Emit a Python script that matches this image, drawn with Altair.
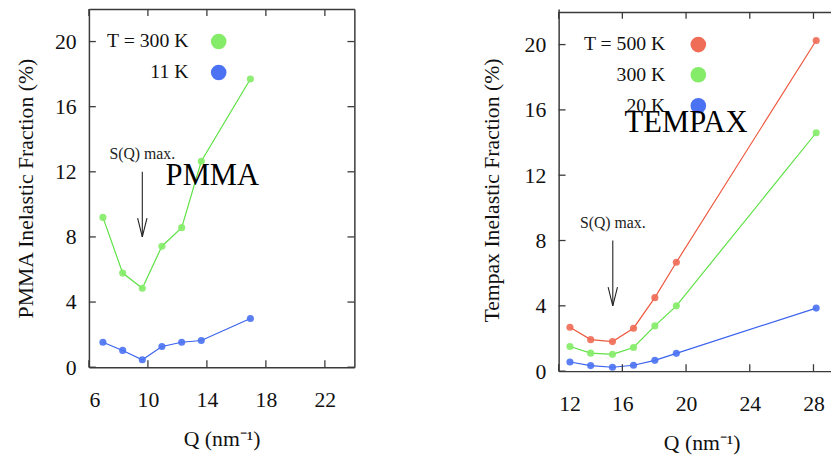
import altair as alt
import pandas as pd

# ---------------- data ----------------
pmma_q = [6.95, 8.29, 9.62, 10.95, 12.29, 13.62, 16.95]
pmma_300K = [9.2, 5.78, 4.85, 7.43, 8.57, 12.65, 17.7]
pmma_11K = [1.53, 1.03, 0.46, 1.27, 1.53, 1.64, 2.99]

tempax_q = [12.71, 14.01, 15.38, 16.70, 18.04, 19.39, 28.17]
tempax_500K = [2.69, 1.93, 1.81, 2.63, 4.50, 6.67, 20.25]
tempax_300K = [1.51, 1.10, 1.03, 1.45, 2.77, 4.00, 14.60]
tempax_20K = [0.56, 0.34, 0.24, 0.36, 0.66, 1.09, 3.86]

pmma_series = ["300 K", "11 K"]
pmma_colors = ["#5ee245", "#3a62ee"]
pmma_point_colors = ["#84ec68", "#4a72f2"]
tempax_series = ["500 K", "300 K", "20 K"]
tempax_colors = ["#ee583e", "#5ee245", "#3a62ee"]
tempax_point_colors = ["#ef6c56", "#84ec68", "#4a72f2"]

pmma_x_domain = [6, 24]
tempax_x_domain = [12, 29.1]
pmma_y_domain = [0, 22]
tempax_y_domain = [0, 22.18]
pmma_x_ticks = [6, 10, 14, 18, 22]
tempax_x_ticks = [12, 16, 20, 24, 28]
y_ticks = [0, 4, 8, 12, 16, 20]

# legend (label text, label position, symbol position, in data units)
pmma_legend_labels = ["T = 300 K", "11 K"]
pmma_legend_label_q = [12.75, 12.75]
pmma_legend_symbol_q = [14.8, 14.8]
pmma_legend_y = [20.0, 18.1]
tempax_legend_labels = ["T = 500 K", "300 K", "20 K"]
tempax_legend_label_q = [18.7, 18.7, 18.7]
tempax_legend_symbol_q = [20.77, 20.77, 20.77]
tempax_legend_y = [20.0, 18.15, 16.25]

# annotations
pmma_name, pmma_name_q, pmma_name_y = "PMMA", 14.37, 11.76
tempax_name, tempax_name_q, tempax_name_y = "TEMPAX", 20.0, 15.2
sq_label = "S(Q) max."
pmma_sq_q, pmma_sq_label_y, pmma_arrow_from, pmma_arrow_to = 9.62, 13.1, 12.0, 8.0
tempax_sq_q, tempax_sq_label_y, tempax_arrow_from, tempax_arrow_to = 15.4, 9.05, 8.0, 4.0

SERIF = "Liberation Serif"
FRAME = "#3a3a3a"
TICK_LEN = 7


def long_df(q, names, values):
    rows = []
    for name, vals in zip(names, values):
        for qq, v in zip(q, vals):
            rows.append({"Q": qq, "val": v, "series": name})
    return pd.DataFrame(rows)


def panel(q, names, values, line_colors, point_colors, x_domain, y_domain, x_ticks,
          ytitle, W, H, leg_labels, leg_lq, leg_sq, leg_y,
          name, name_q, name_y, sq_q, sq_y, ar_from, ar_to, right_frame, xtitle_x,
          ytitle_pad, top_inset):
    xs = alt.Scale(domain=x_domain, nice=False, zero=False)
    ys = alt.Scale(domain=y_domain, nice=False, zero=False)
    df = long_df(q, names, values)

    xaxis = alt.Axis(orient="bottom", values=x_ticks, ticks=False, grid=False,
                     labelPadding=23, titlePadding=18, title="Q (nm⁻¹)",
                     titleX=xtitle_x, titleAlign="center")
    yaxis = alt.Axis(orient="left", values=y_ticks, ticks=False, grid=False,
                     labelPadding=13, titlePadding=ytitle_pad, title=ytitle)

    lines = alt.Chart(df).mark_line(strokeWidth=1.2).encode(
        x=alt.X("Q:Q", scale=xs, axis=xaxis),
        y=alt.Y("val:Q", scale=ys, axis=yaxis),
        color=alt.Color("series:N", scale=alt.Scale(domain=names, range=line_colors), legend=None),
    )
    pts = alt.Chart(df).mark_circle(size=52, opacity=0.9).encode(
        x=alt.X("Q:Q", scale=xs, axis=None),
        y=alt.Y("val:Q", scale=ys, axis=None),
        color=alt.Color("series:N", scale=alt.Scale(domain=names, range=point_colors), legend=None),
    )

    # frame (top / right) + inward ticks
    xt = pd.DataFrame({"v": x_ticks})
    yt = pd.DataFrame({"v": y_ticks})
    top_axis = alt.Axis(orient="top", labels=False, ticks=False, grid=False, title=None,
                        offset=-top_inset)
    tick_top = alt.Chart(xt).mark_rule(color=FRAME, strokeWidth=1.3).encode(
        x=alt.X("v:Q", scale=xs, axis=top_axis), y=alt.value(top_inset),
        y2=alt.value(top_inset + TICK_LEN))
    tick_bottom = alt.Chart(xt).mark_rule(color=FRAME, strokeWidth=1.3).encode(
        x=alt.X("v:Q", scale=xs, axis=None), y=alt.value(H - TICK_LEN), y2=alt.value(H))
    layers = [lines, pts, tick_top, tick_bottom]
    if right_frame:
        right_axis = alt.Axis(orient="right", labels=False, ticks=False, grid=False, title=None)
        tick_left = alt.Chart(yt).mark_rule(color=FRAME, strokeWidth=1.3).encode(
            y=alt.Y("v:Q", scale=ys, axis=right_axis), x=alt.value(0), x2=alt.value(TICK_LEN))
        tick_right = alt.Chart(yt).mark_rule(color=FRAME, strokeWidth=1.3).encode(
            y=alt.Y("v:Q", scale=ys, axis=None), x=alt.value(W - TICK_LEN), x2=alt.value(W))
        layers += [tick_left, tick_right]
    else:
        tick_left = alt.Chart(yt).mark_rule(color=FRAME, strokeWidth=1.3).encode(
            y=alt.Y("v:Q", scale=ys, axis=None), x=alt.value(0), x2=alt.value(TICK_LEN))
        layers += [tick_left]

    # legend
    leg = pd.DataFrame({"label": leg_labels, "lq": leg_lq, "sq": leg_sq, "y": leg_y, "series": names})
    leg_text = alt.Chart(leg).mark_text(font=SERIF, fontSize=20, align="right", baseline="middle",
                                        color="#111").encode(
        x=alt.X("lq:Q", scale=xs, axis=None), y=alt.Y("y:Q", scale=ys, axis=None), text="label:N")
    leg_sym = alt.Chart(leg).mark_circle(size=250, opacity=1).encode(
        x=alt.X("sq:Q", scale=xs, axis=None), y=alt.Y("y:Q", scale=ys, axis=None),
        color=alt.Color("series:N", scale=alt.Scale(domain=names, range=point_colors), legend=None))

    # annotations
    ann = pd.DataFrame({"q": [name_q], "y": [name_y], "t": [name]})
    name_txt = alt.Chart(ann).mark_text(font=SERIF, fontSize=31, align="center", baseline="middle",
                                        color="#000").encode(
        x=alt.X("q:Q", scale=xs, axis=None), y=alt.Y("y:Q", scale=ys, axis=None), text="t:N")
    sq = pd.DataFrame({"q": [sq_q], "ylab": [sq_y], "y1": [ar_from], "y2": [ar_to], "t": [sq_label]})
    sq_txt = alt.Chart(sq).mark_text(font=SERIF, fontSize=16, align="center", baseline="middle",
                                     color="#222").encode(
        x=alt.X("q:Q", scale=xs, axis=None), y=alt.Y("ylab:Q", scale=ys, axis=None), text="t:N")
    arrow = alt.Chart(sq).mark_rule(color="#222", strokeWidth=1.1).encode(
        x=alt.X("q:Q", scale=xs, axis=None), y=alt.Y("y1:Q", scale=ys, axis=None), y2="y2:Q")
    head = alt.Chart(sq).mark_point(shape="M-0.25,-1L0,0L0.25,-1", size=1444, filled=False,
                                    color="#222", strokeWidth=1.1, opacity=1).encode(
        x=alt.X("q:Q", scale=xs, axis=None), y=alt.Y("y2:Q", scale=ys, axis=None))

    layers += [leg_text, leg_sym, name_txt, sq_txt, arrow, head]
    return alt.layer(*layers).resolve_axis(x="independent", y="independent").resolve_scale(
        color="independent").properties(width=W, height=H)


left = panel(pmma_q, pmma_series, [pmma_300K, pmma_11K], pmma_colors, pmma_point_colors,
             pmma_x_domain, pmma_y_domain, pmma_x_ticks, "PMMA Inelastic Fraction (%)", 269, 363,
             pmma_legend_labels, pmma_legend_label_q, pmma_legend_symbol_q, pmma_legend_y,
             pmma_name, pmma_name_q, pmma_name_y, pmma_sq_q, pmma_sq_label_y,
             pmma_arrow_from, pmma_arrow_to, True, 134.5, 17, 0)
right = panel(tempax_q, tempax_series, [tempax_500K, tempax_300K, tempax_20K], tempax_colors,
              tempax_point_colors, tempax_x_domain, tempax_y_domain, tempax_x_ticks,
              "Tempax Inelastic Fraction (%)", 276, 367, tempax_legend_labels,
              tempax_legend_label_q, tempax_legend_symbol_q, tempax_legend_y, tempax_name,
              tempax_name_q, tempax_name_y, tempax_sq_q, tempax_sq_label_y, tempax_arrow_from,
              tempax_arrow_to, False, 145, 21, 3)

chart = alt.hconcat(left, right, spacing=127).properties(
    padding={"left": 7, "top": -3, "right": 0, "bottom": 0},
    background="white",
).configure_view(strokeWidth=0).configure_axis(
    labelFont=SERIF, labelFontSize=22, labelColor="#111",
    titleFont=SERIF, titleFontSize=22, titleFontWeight="normal", titleColor="#111",
    domainColor=FRAME, domainWidth=1.5, grid=False,
)

chart.save("out.html", embed_options={"renderer": "svg", "actions": False})
